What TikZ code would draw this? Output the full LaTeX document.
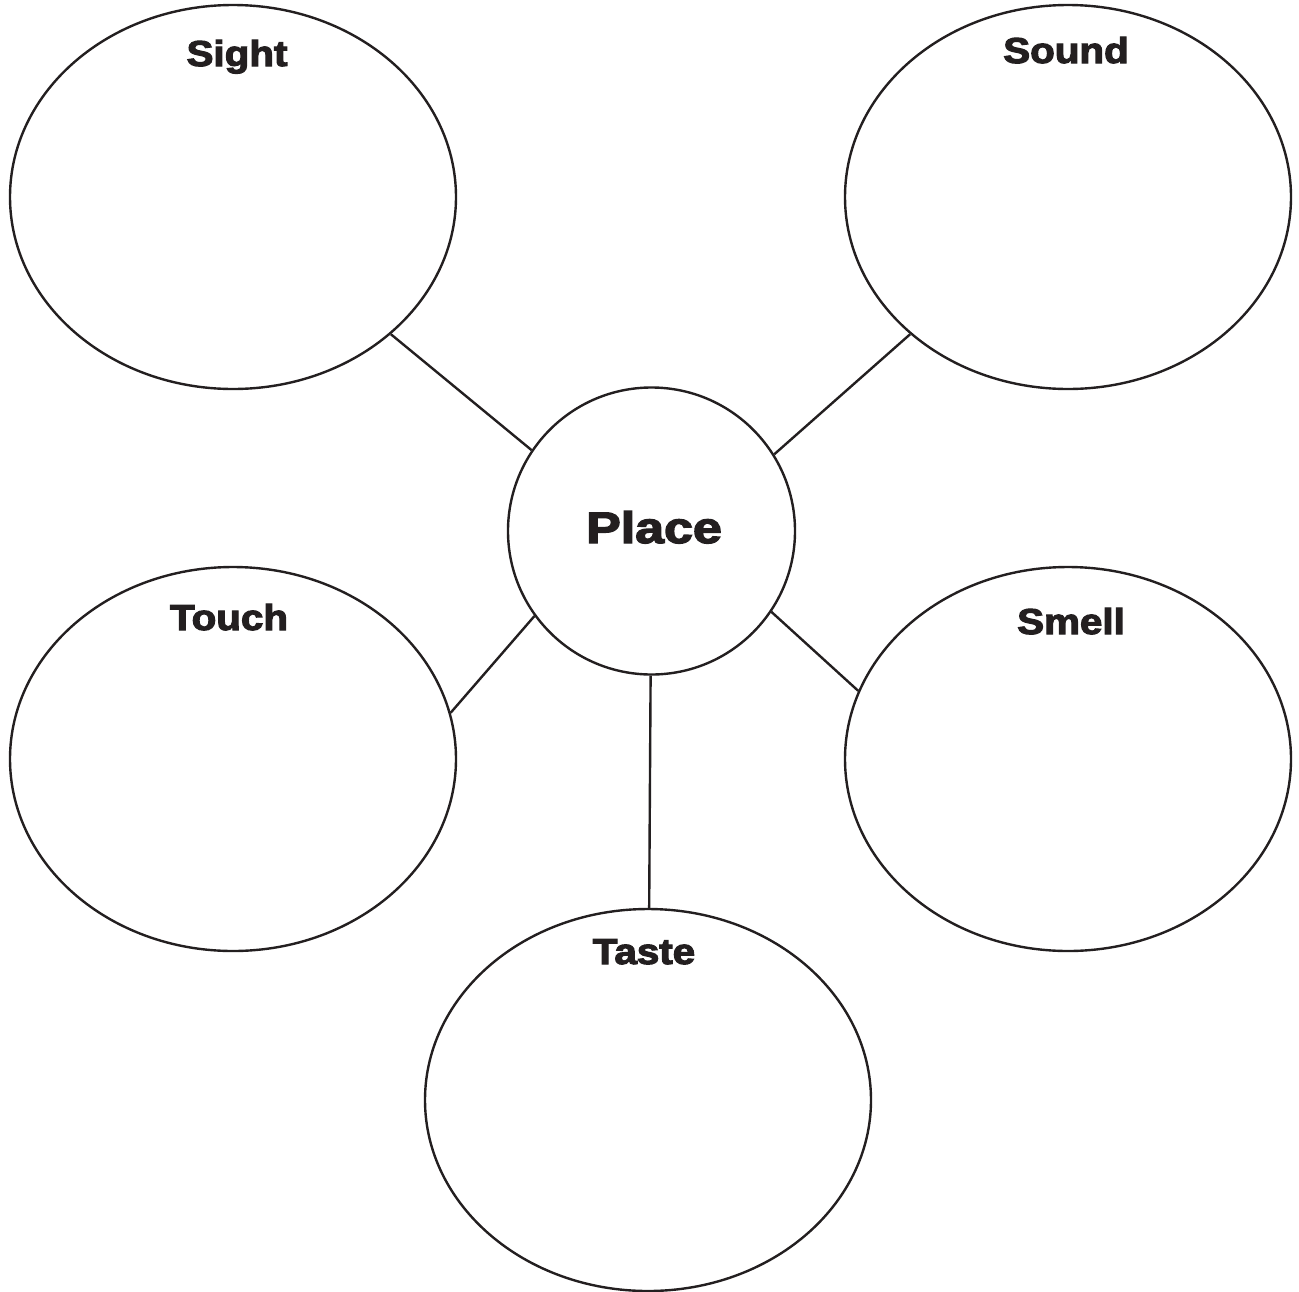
\documentclass[tikz,border=0pt]{standalone}
\usepackage{fontspec}
\setmainfont{Liberation Sans}
\newfontfamily\heavy[FakeBold=3]{Liberation Sans Bold}
\usetikzlibrary{shapes.geometric}
\definecolor{ink}{HTML}{231F20}
\tikzset{
  sense/.style={draw=ink, line width=2.4pt, ellipse, minimum width=446pt, minimum height=384pt, inner sep=0pt},
  hub/.style={draw=ink, line width=2.4pt, circle, minimum size=287pt, inner sep=0pt},
  link/.style={draw=ink, line width=2.4pt},
  lbl/.style={anchor=base, text=ink, inner sep=0pt, font=\fontsize{36}{40}\selectfont\heavy},
  biglbl/.style={anchor=base, text=ink, inner sep=0pt, font=\fontsize{44}{48}\selectfont\heavy}
}
\newcommand{\wide}[2][1.12]{\scalebox{#1}[1]{#2}}
\begin{document}
\begin{tikzpicture}[x=1pt,y=-1pt]
\useasboundingbox (0,0) rectangle (1299,1291);
\node[sense] (sight) at (233,197) {};
\node[sense] (sound) at (1068,197) {};
\node[sense] (touch) at (233,759) {};
\node[sense] (smell) at (1068,759) {};
\node[sense, minimum height=382pt] (taste) at (648,1100) {};
\node[hub] (place) at (651.5,531) {};
\node[lbl] (tsight) at (237,66) {\wide{Sight}};
\node[lbl] (tsound) at (1066,63) {\wide{Sound}};
\node[lbl] (ttouch) at (229,630) {\wide{Touch}};
\node[lbl] (tsmell) at (1071,634) {\wide{Smell}};
\node[lbl] (ttaste) at (644,964) {\wide{Taste}};
\node[biglbl] (tplace) at (654,543) {\wide[1.18]{Place}};
\draw[link] (sight.-41.1) -- (place.146.1);
\draw[link] (sound.221.1) -- (place.32.8);
\draw[link] (touch.12.8) -- (place.216.5);
\draw[link] (smell.162.2) -- (place.-34.8);
\draw[link] (place) -- (taste);
\end{tikzpicture}
\end{document}
